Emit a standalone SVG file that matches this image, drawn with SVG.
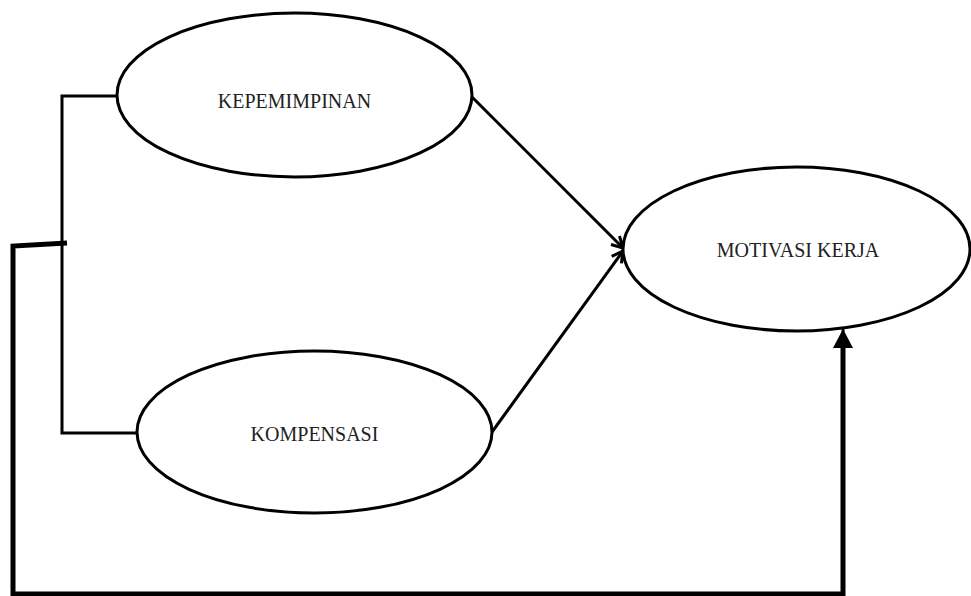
<svg xmlns="http://www.w3.org/2000/svg" width="971" height="596" viewBox="0 0 971 596">
  <style>
    .node ellipse { fill: #ffffff; stroke: #000000; stroke-width: 3; }
    .node text { font-family: "Liberation Serif", "Times New Roman", serif; font-size: 20px; fill: #222222; text-anchor: middle; }
    .thin { fill: none; stroke: #000000; stroke-width: 3; }
    .thick { fill: none; stroke: #000000; stroke-width: 5; }
  </style>
  <defs>
    <marker id="open" markerUnits="userSpaceOnUse" markerWidth="16" markerHeight="16" viewBox="0 0 16 16" refX="14" refY="8" orient="auto">
      <path d="M3,2 L14,8 L3,14" fill="none" stroke="#000000" stroke-width="3"/>
    </marker>
    <marker id="solid" markerUnits="userSpaceOnUse" markerWidth="22" markerHeight="22" viewBox="0 0 22 22" refX="20" refY="11" orient="auto">
      <path d="M1,1 L20,11 L1,21 Z" fill="#000000"/>
    </marker>
  </defs>
  <rect width="971" height="596" fill="#ffffff"/>
  <g id="connectors">
    <path class="thin" d="M117,96 H62 V433 H137"/>
    <path class="thick" d="M67,243 L13,246 V594 H843 V348"/>
    <line class="thin" x1="843" y1="360" x2="843" y2="329" marker-end="url(#solid)"/>
    <line class="thin" x1="472" y1="97" x2="623" y2="248" marker-end="url(#open)"/>
    <line class="thin" x1="492" y1="432" x2="623" y2="251" marker-end="url(#open)"/>
  </g>
  <g id="kepemimpinan" class="node">
    <ellipse cx="294.5" cy="95" rx="177.5" ry="82"/>
    <text x="294.5" y="108">KEPEMIMPINAN</text>
  </g>
  <g id="kompensasi" class="node">
    <ellipse cx="314.5" cy="432" rx="177.5" ry="81"/>
    <text x="314.5" y="441">KOMPENSASI</text>
  </g>
  <g id="motivasi-kerja" class="node">
    <ellipse cx="796.5" cy="249" rx="173.5" ry="82"/>
    <text x="798" y="257">MOTIVASI KERJA</text>
  </g>
</svg>
